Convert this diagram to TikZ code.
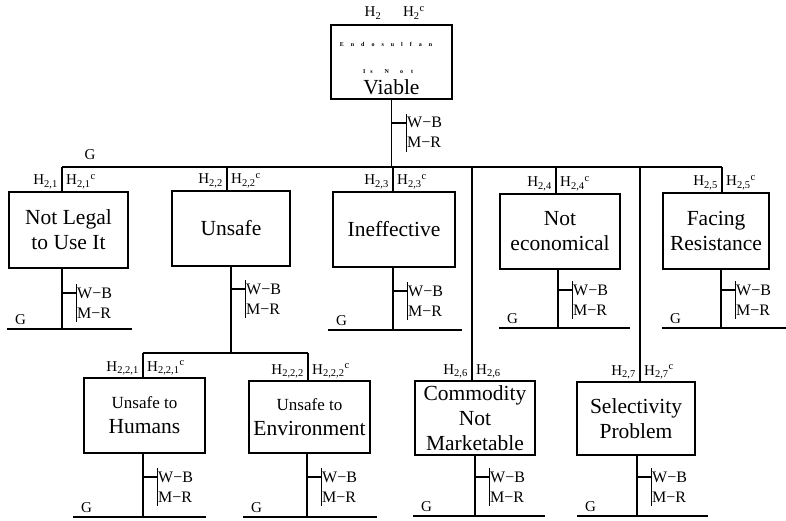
\documentclass[tikz,border=0pt]{standalone}
\usepackage{fontspec}
\setmainfont{Liberation Serif}
\usetikzlibrary{positioning}
\newcommand\hsub[1]{H\textsubscript{#1}}
\newcommand\hcomp[1]{H\textsubscript{#1}\textsuperscript{c}}
\newcommand\dotgap{\hspace{7pt}}

\begin{document}
\begin{tikzpicture}[x=1pt,y=-1pt,
      box/.style={rectangle,draw,line width=1.4pt,align=center,inner sep=0pt,
        font=\fontsize{21.5}{25}\selectfont},
      hlab/.style={inner sep=0pt,font=\fontsize{15}{15}\selectfont},
      tag/.style={inner sep=0pt,font=\fontsize{16}{16}\selectfont},
      link/.style={line width=1.2pt}
      ]
      \useasboundingbox (0,0) rectangle (786,521);

      % goal
      \node[box,minimum width=121pt,minimum height=74pt] (viable) at (391.5,62) {};
      \node[inner sep=0pt,font=\fontsize{6}{6}\selectfont\bfseries] (dots1) at (386,44)
        {E\dotgap n\dotgap d\dotgap o\dotgap s\dotgap u\dotgap l\dotgap f\dotgap a\dotgap n};
      \node[inner sep=0pt,font=\fontsize{6}{6}\selectfont\bfseries] (dots2) at (388,72)
        {I\hspace{5pt}s\hspace{12pt}N\hspace{11pt}o\hspace{8pt}t};
      \node[inner sep=0pt,font=\fontsize{21.5}{25}\selectfont,anchor=base] (viabletxt) at (391.5,95) {Viable};
      \node[hlab,anchor=base] (h2) at (373,17) {\hsub{2}};
      \node[hlab,anchor=base] (h2c) at (414,17) {\hcomp{2}};

      % first level
      \node[box,minimum width=119pt,minimum height=76pt] (legal) at (68.5,230) {Not Legal\\to Use It};
      \node[box,minimum width=118pt,minimum height=75pt] (unsafe) at (231,228.5) {Unsafe};
      \node[box,minimum width=122pt,minimum height=75pt] (ineff) at (394,229.5) {Ineffective};
      \node[box,minimum width=120pt,minimum height=75pt] (econ) at (560,231.5) {Not\\economical};
      \node[box,minimum width=106pt,minimum height=76pt] (facing) at (716,231) {Facing\\Resistance};

      % second level
      \node[box,minimum width=121pt,minimum height=75pt] (humans) at (144.5,415.5)
        {{\fontsize{17}{20}\selectfont Unsafe to}\\Humans};
      \node[box,minimum width=121pt,minimum height=72pt] (envir) at (309.5,417)
        {{\fontsize{17}{20}\selectfont Unsafe to}\\Environment};
      \node[box,minimum width=120pt,minimum height=74pt] (commod) at (475,418) {Commodity\\Not\\Marketable};
      \node[box,minimum width=118pt,minimum height=73pt] (select) at (636,418.5) {Selectivity\\Problem};

      % bus and drops
      \coordinate (b1) at (62,167);
      \coordinate (b2) at (227,167);
      \coordinate (b3) at (393,167);
      \coordinate (b4) at (556,167);
      \coordinate (b5) at (722,167);
      \coordinate (b6) at (472,167);
      \coordinate (b7) at (640,167);
      \draw[link] (viable.south) -- (viable.south |- b3);
      \draw[link] (b1) -- (b5);
      \draw[link] (b1) -- (b1 |- legal.north);
      \draw[link] (b2) -- (b2 |- unsafe.north);
      \draw[link] (b3) -- (b3 |- ineff.north);
      \draw[link] (b4) -- (b4 |- econ.north);
      \draw[link] (b5) -- (b5 |- facing.north);
      \draw[link] (b6) -- (b6 |- commod.north);
      \draw[link] (b7) -- (b7 |- select.north);
      \node[hlab,anchor=base] (gtop) at (90,160) {G};

      % sub bus under Unsafe
      \coordinate (s0) at (231,353);
      \coordinate (s1) at (143,353);
      \coordinate (s2) at (308,353);
      \draw[link] (unsafe.south) -- (s0);
      \draw[link] (s1) -- (s2);
      \draw[link] (s1) -- (s1 |- humans.north);
      \draw[link] (s2) -- (s2 |- envir.north);

      % hypothesis labels
      \node[hlab,anchor=base east] at (58,185) {\hsub{2,1}};
      \node[hlab,anchor=base west] at (66,185) {\hcomp{2,1}};
      \node[hlab,anchor=base east] at (223,184) {\hsub{2,2}};
      \node[hlab,anchor=base west] at (231,184) {\hcomp{2,2}};
      \node[hlab,anchor=base east] at (389,185) {\hsub{2,3}};
      \node[hlab,anchor=base west] at (397,185) {\hcomp{2,3}};
      \node[hlab,anchor=base east] at (552,187) {\hsub{2,4}};
      \node[hlab,anchor=base west] at (560,187) {\hcomp{2,4}};
      \node[hlab,anchor=base east] at (718,186) {\hsub{2,5}};
      \node[hlab,anchor=base west] at (726,186) {\hcomp{2,5}};
      \node[hlab,anchor=base east] at (139,371) {\hsub{2,2,1}};
      \node[hlab,anchor=base west] at (147,371) {\hcomp{2,2,1}};
      \node[hlab,anchor=base east] at (304,374) {\hsub{2,2,2}};
      \node[hlab,anchor=base west] at (312,374) {\hcomp{2,2,2}};
      \node[hlab,anchor=base east] at (468,374) {\hsub{2,6}};
      \node[hlab,anchor=base west] at (476,374) {\hsub{2,6}};
      \node[hlab,anchor=base east] at (636,375) {\hsub{2,7}};
      \node[hlab,anchor=base west] at (644,375) {\hcomp{2,7}};

      % ground lines
      \foreach \gx/\ga/\gb/\gy/\gn in {62/7/132/329/legal,393/328/462/330/ineff,558/499/630/328/econ,
          721/662/786/328/facing,143/73/206/517/humans,307/243/377/517/envir,
          475/413/545/516/commod,637/577/708/516/select} {
        \coordinate (g-\gn) at (\gx,\gy);
        \draw[link] (\gn.south -| g-\gn) -- (g-\gn);
        \draw[link] (\ga,\gy) -- (\gb,\gy);
        \node[hlab,anchor=base west] (G-\gn) at (\ga+8,\gy-5) {G};
      }

      % W-B / M-R tags
      \foreach \tx/\ty in {392/123,62/293,231/289,393/291,558/290,721/290,
          143/477,307/477,475/477,637/477} {
        \draw[link] (\tx,\ty) -- ++(14,0);
        \draw[line width=1pt] (\tx+14,\ty-9) -- (\tx+14,\ty+29);
        \node[tag,anchor=base west] (wb\tx) at (\tx+15,\ty+5) {W−B};
        \node[tag,anchor=base west] (mr\tx) at (\tx+15,\ty+25) {M−R};
      }

    \end{tikzpicture}
\end{document}
